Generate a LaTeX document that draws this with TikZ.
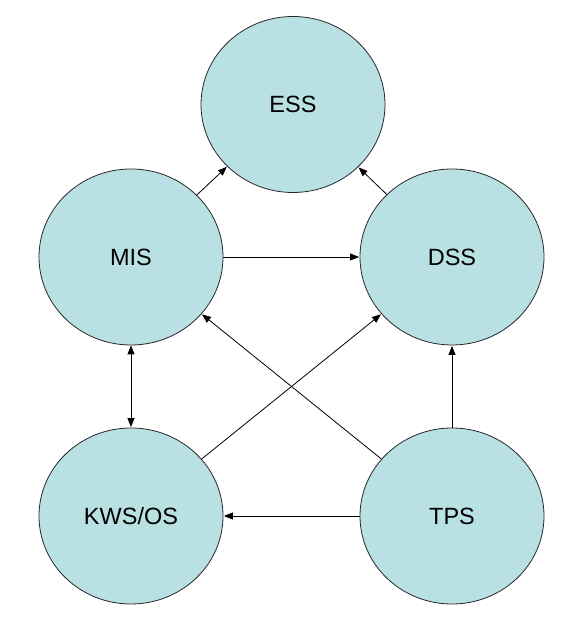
\documentclass[tikz,border=0pt]{standalone}
\usepackage{fontspec}
\setmainfont{Liberation Sans}
\usetikzlibrary{arrows.meta,shapes.geometric}
\definecolor{bubble}{RGB}{185,224,227}
\definecolor{rim}{RGB}{40,40,40}
\begin{document}
\begin{tikzpicture}[x=1pt,y=1pt,
  bub/.style={ellipse, minimum width=184pt, minimum height=176pt, inner sep=0pt,
    fill=bubble, draw=rim, line width=0.8pt, font=\fontsize{23.5}{26}\selectfont},
  conn/.style={line width=0.8pt, -{Triangle[length=9pt,width=7pt]}, shorten >=0.5pt}
]
\useasboundingbox (0,0) rectangle (587,626);
\node[bub] (ess) at (293,521.5) {ESS};
\node[bub] (mis) at (131,369) {MIS};
\node[bub] (dss) at (452,369) {DSS};
\node[bub] (kws) at (131,110) {KWS/OS};
\node[bub] (tps) at (452,110) {TPS};
\draw[conn] (mis) -- (ess);
\draw[conn] (dss) -- (ess);
\draw[conn] (mis) -- (dss);
\draw[conn, {Triangle[length=9pt,width=7pt]}-{Triangle[length=9pt,width=7pt]}] (mis) -- (kws);
\draw[conn] (kws) -- (dss);
\draw[conn] (tps) -- (mis);
\draw[conn] (tps) -- (dss);
\draw[conn] (tps) -- (kws);
\end{tikzpicture}
\end{document}
